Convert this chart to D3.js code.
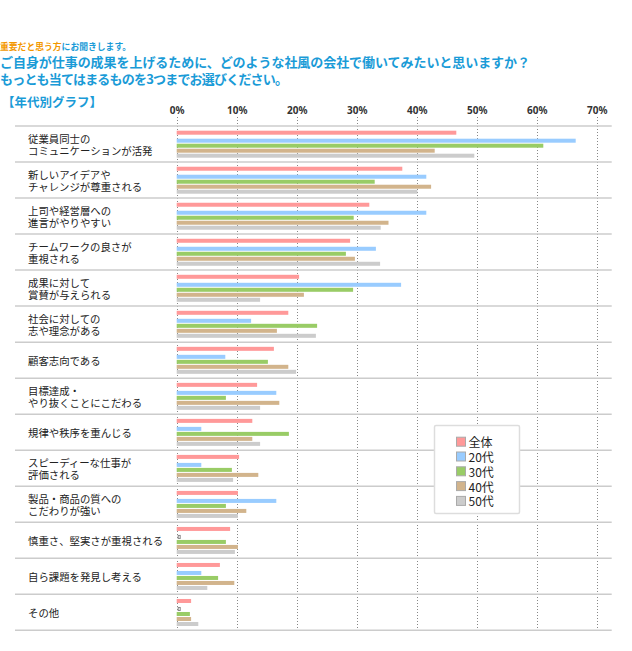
<!DOCTYPE html>
<html><head><meta charset="utf-8">
<script src="https://cdn.jsdelivr.net/npm/d3@7"></script>
<style>
body{margin:0;background:#fff;}
svg{display:block;font-family:"Noto Sans CJK JP","Noto Sans",sans-serif;}
</style></head>
<body>
<script>
// ---- data ----
const categories = [
  ["従業員同士の","コミュニケーションが活発"],
  ["新しいアイデアや","チャレンジが尊重される"],
  ["上司や経営層への","進言がやりやすい"],
  ["チームワークの良さが","重視される"],
  ["成果に対して","賞賛が与えられる"],
  ["社会に対しての","志や理念がある"],
  ["顧客志向である"],
  ["目標達成・","やり抜くことにこだわる"],
  ["規律や秩序を重んじる"],
  ["スピーディーな仕事が","評価される"],
  ["製品・商品の質への","こだわりが強い"],
  ["慎重さ、堅実さが重視される"],
  ["自ら課題を発見し考える"],
  ["その他"]
];
const seriesNames = ["全体","20代","30代","40代","50代"];
const seriesColors = ["#ff9999","#99ccff","#99cc66","#d2b48c","#cccccc"];
const valuesAll  = [46.6,37.6,32.1,28.9,20.4,18.6,16.2,13.4,12.6,10.4,10.2,8.9,7.2,2.4];
const values20s  = [66.5,41.6,41.6,33.2,37.4,12.4,8.1,16.6,4.1,4.1,16.6,0,4.1,0];
const values30s  = [61.1,33.0,29.5,28.2,29.4,23.4,15.2,8.2,18.7,9.2,8.2,8.2,6.9,2.2];
const values40s  = [43.0,42.4,35.3,29.7,21.2,16.7,18.6,17.1,12.6,13.6,11.6,10.2,9.6,2.4];
const values50s  = [49.6,40.1,34.0,33.9,13.9,23.2,19.9,13.9,13.9,9.4,10.2,9.7,5.1,3.6];
const tickValues = [0,10,20,30,40,50,60,70];
const seriesValues = [valuesAll,values20s,values30s,values40s,values50s];

const W=632,H=651;
const svg=d3.select("body").append("svg").attr("width",W).attr("height",H);

// ---- titles ----
const t0=svg.append("text").attr("x",0).attr("y",49.5).attr("font-size",8.8).attr("font-weight","bold");
t0.append("tspan").attr("fill","#f39800").text("重要だと思う方");
t0.append("tspan").attr("fill","#1a9bd7").text("にお聞きします。");
svg.append("text").attr("x",0).attr("y",67).attr("font-size",13).attr("font-weight","bold")
  .attr("textLength",530).attr("lengthAdjust","spacing")
  .attr("fill","#1a9bd7").text("ご自身が仕事の成果を上げるために、どのような社風の会社で働いてみたいと思いますか？");
svg.append("text").attr("x",0).attr("y",84).attr("font-size",13).attr("font-weight","bold")
  .attr("textLength",288).attr("lengthAdjust","spacing")
  .attr("fill","#1a9bd7").text("もっとも当てはまるものを3つまでお選びください。");
svg.append("text").attr("x",2).attr("y",107).attr("font-size",12.5).attr("font-weight","bold")
  .attr("fill","#1a9bd7").text("【年代別グラフ】");

// ---- scales ----
const plotTop=126, plotBottom=630.3;
const x=d3.scaleLinear().domain([0,70]).range([176.7,596.7]);
const y=d3.scaleBand().domain(d3.range(categories.length)).range([plotTop,plotBottom]).padding(0);
const off=d3.scaleOrdinal().domain(seriesNames).range([4.7,12.7,17.7,22.7,27.7]);
const color=d3.scaleOrdinal().domain(seriesNames).range(seriesColors);

// ---- axis & grid ----
const ax=svg.append("g").attr("transform",`translate(0,116.5)`)
  .call(d3.axisTop(x).tickValues(tickValues).tickFormat(d=>d+"%").tickSize(-(plotBottom-116.5)).tickPadding(3));
ax.select(".domain").remove();
ax.selectAll(".tick line").attr("stroke","#888").attr("stroke-dasharray","1,2").attr("shape-rendering","crispEdges");
ax.selectAll(".tick text").attr("font-size",10).attr("font-weight","bold").attr("fill","#333")
  .attr("font-family","'Noto Sans',sans-serif");

// ---- separators ----
svg.append("g").selectAll("line").data(d3.range(categories.length+1)).join("line")
  .attr("x1",15).attr("x2",611.7)
  .attr("y1",i=>i<categories.length?y(i):plotBottom).attr("y2",i=>i<categories.length?y(i):plotBottom)
  .attr("stroke","#cccccc").attr("stroke-width",1.5);

// ---- labels ----
const lab=svg.append("g").selectAll("text").data(categories).join("text")
  .attr("font-size",10.4).attr("fill","#222");
lab.each(function(lines,i){
  const c=y(i)+y.bandwidth()/2;
  const t=d3.select(this);
  lines.forEach((s,k)=>{
    const dy = lines.length===1?0:(k===0?-5.5:6);
    t.append("tspan").attr("x",28).attr("y",c+dy).attr("dominant-baseline","central").text(s);
  });
});

// ---- bars ----
seriesNames.forEach((name,si)=>{
  const vals=seriesValues[si];
  const g=svg.append("g");
  g.selectAll("rect").data(vals).join("rect")
    .attr("x",d=>d===0?x(0)+1.5:x(0))
    .attr("y",(d,i)=>y(i)+off(name)+(d===0?0.5:0))
    .attr("width",d=>d===0?2:x(d)-x(0))
    .attr("height",d=>d===0?3:4)
    .attr("fill",d=>d===0?"#fff":color(name))
    .attr("stroke",d=>d===0?"#888":"none")
    .attr("stroke-width",1);
});

// ---- legend ----
const lg=svg.append("g");
lg.append("rect").attr("x",434.5).attr("y",425.5).attr("width",85).attr("height",88)
  .attr("fill","#fff").attr("stroke","#dddddd").attr("stroke-width",1.5).attr("rx",1.5);
const li=lg.selectAll("g").data(seriesNames).join("g")
  .attr("transform",(d,i)=>`translate(456,${436.7+i*14.8})`);
li.append("rect").attr("x",0.5).attr("y",0.5).attr("width",9).attr("height",9)
  .attr("fill",d=>color(d)).attr("stroke","#aaa").attr("stroke-width",1);
li.append("text").attr("x",12.5).attr("y",5).attr("dominant-baseline","central")
  .attr("font-size",12).attr("fill","#222").text(d=>d);
</script>
</body></html>
